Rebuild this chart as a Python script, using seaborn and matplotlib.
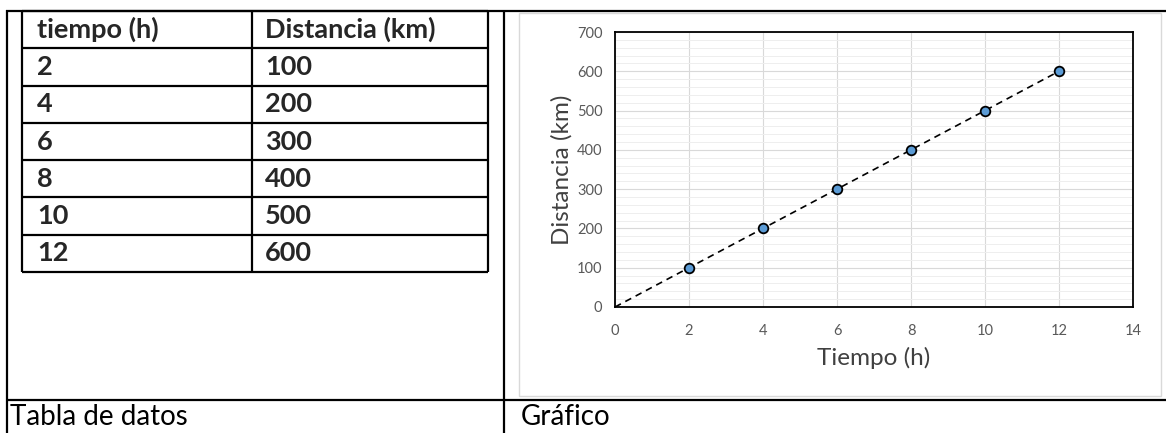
import numpy as np
import pandas as pd
import matplotlib
matplotlib.use("Agg")
import matplotlib.pyplot as plt
from matplotlib.lines import Line2D
from matplotlib.patches import Rectangle
from matplotlib.ticker import MultipleLocator
import seaborn as sns

# ---- data ----
tiempo = [2, 4, 6, 8, 10, 12]
distancia = [100, 200, 300, 400, 500, 600]
col_headers = ["tiempo (h)", "Distancia (km)"]
x_label = "Tiempo (h)"
y_label = "Distancia (km)"
caption_left = "Tabla de datos"
caption_right = "Gráfico"

sns.set_theme(style="white")
plt.rcParams["font.family"] = ["Lato", "DejaVu Sans"]

W, H = 1166, 433
fig = plt.figure(figsize=(W / 100, H / 100), dpi=100)
fig.patch.set_facecolor("white")

def fx(x):
    return x / W

def fy(y):
    return 1 - y / H

def hline(y, x0, x1, lw=1.6, color="black"):
    fig.add_artist(Line2D([fx(x0), fx(x1)], [fy(y), fy(y)], transform=fig.transFigure,
                          color=color, lw=lw, solid_capstyle="butt"))

def vline(x, y0, y1, lw=1.6, color="black"):
    fig.add_artist(Line2D([fx(x), fx(x)], [fy(y0), fy(y1)], transform=fig.transFigure,
                          color=color, lw=lw, solid_capstyle="butt"))

# ---- outer layout table ----
hline(11, 6, W)
hline(400, 6, W)
vline(7, 10, H)
vline(504, 10, H)
fig.text(fx(10), fy(417), caption_left, fontsize=20, va="center", ha="left", color="black")
fig.text(fx(521), fy(417), caption_right, fontsize=20, va="center", ha="left", color="black")

# ---- data table ----
row_lines = np.linspace(11, 272, len(tiempo) + 2)
tx0, tx1, tcol = 22, 488, 252
for y in row_lines:
    hline(y, tx0, tx1)
vline(tx0, 11, 272)
vline(tx1, 11, 272)
vline(tcol, 11, 272)
rows = [col_headers] + [[str(t), str(d)] for t, d in zip(tiempo, distancia)]
for i, (a, b) in enumerate(rows):
    yc = (row_lines[i] + row_lines[i + 1]) / 2
    fig.text(fx(37), fy(yc), a, fontsize=19.5, fontweight="bold", va="center", ha="left")
    fig.text(fx(265), fy(yc), b, fontsize=19.5, fontweight="bold", va="center", ha="left")

# ---- chart area border ----
fig.add_artist(Rectangle((fx(519), fy(396)), fx(1161) - fx(519), fy(13) - fy(396),
                         transform=fig.transFigure, fill=False, edgecolor="#d9d9d9", lw=1.0))

# ---- chart ----
ax = fig.add_axes([fx(615), fy(307), fx(1133) - fx(615), fy(32) - fy(307)])
df = pd.DataFrame({"t": tiempo, "d": distancia})

ax.set_xlim(0, 14)
ax.set_ylim(0, 700)
ax.xaxis.set_major_locator(MultipleLocator(2))
ax.yaxis.set_major_locator(MultipleLocator(100))
ax.yaxis.set_minor_locator(MultipleLocator(20))
ax.grid(True, which="major", color="#d9d9d9", lw=0.8)
ax.grid(True, which="minor", axis="y", color="#eeeeee", lw=0.7)
ax.set_axisbelow(True)

# linear trendline
coef = np.polyfit(tiempo, distancia, 1)
xs = np.array([0, max(tiempo)])
ax.plot(xs, np.polyval(coef, xs), ls=(0, (4, 3)), color="black", lw=1.2, zorder=2)

sns.scatterplot(data=df, x="t", y="d", ax=ax, s=48, color="#5b9bd5",
                edgecolor="black", linewidth=1.3, zorder=3)

for s in ax.spines.values():
    s.set_visible(True)
    s.set_color("black")
    s.set_linewidth(1.3)

ax.tick_params(axis="both", which="major", colors="#bfbfbf", labelcolor="#595959",
               labelsize=10.5, length=3, width=0.8, direction="out")
ax.tick_params(axis="x", pad=9)
ax.tick_params(axis="y", pad=6)
ax.tick_params(which="minor", length=0)
ax.set_xlabel(x_label, fontsize=17.5, color="#404040", labelpad=7)
ax.set_ylabel(y_label, fontsize=17.5, color="#404040", labelpad=3)

fig.savefig("out.png", dpi=100)
